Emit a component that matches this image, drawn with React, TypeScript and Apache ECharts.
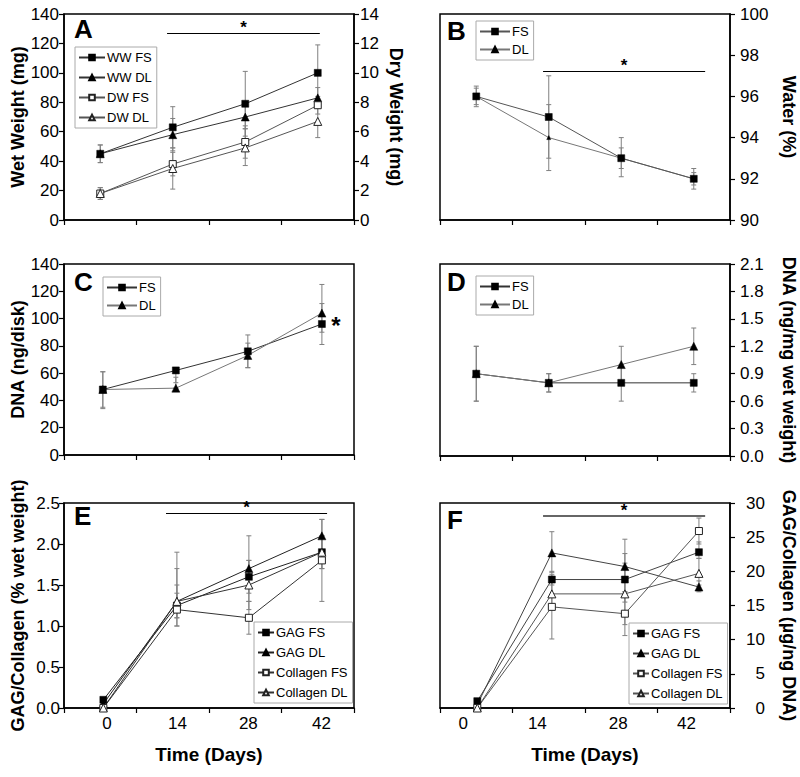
import React, { useEffect, useRef } from 'react';
import * as echarts from 'echarts';

const FONT = '"Liberation Sans", Arial, Helvetica, sans-serif';

// ---- x positions (days) ----
const days = [0, 14, 28, 42];
const daysC = [0.5, 14.6, 28.5, 42.8];
const daysE = [0.6, 14.8, 28.7, 42.8];
const daysF = [0.2, 14.6, 28.7, 43];
const xTickValues = [-7, 7, 21, 35, 49];
const xLabelPosE = [1.3, 14.9, 28.6, 42.7];
const xLabelPosF = [-2.5, 11.8, 27.4, 40.6];

// ---- Panel A ----
const wwFS = [45, 63, 79, 100];
const wwFSerr = [[39, 51], [49, 77], [57, 101], [81, 119]];
const wwDL = [45, 58, 70, 83];
const wwDLerr = [[39, 51], [47, 69], [62, 78], [76, 90]];
const dwFS = [1.8, 3.8, 5.3, 7.8];
const dwFSerr = [[1.4, 2.2], [3.0, 4.6], [4.2, 6.4], [7.2, 8.4]];
const dwDL = [1.8, 3.5, 4.9, 6.7];
const dwDLerr = [[1.4, 2.2], [2.1, 4.9], [3.7, 6.2], [5.6, 7.8]];

// ---- Panel B ----
const waterFS = [96, 95, 93, 92];
const waterFSerr = [[95.5, 96.5], [93, 97], [92.1, 94], [91.5, 92.5]];
const waterDL = [96, 94, 93, 92];
const waterDLerr = [[95.6, 96.4], [92.4, 95.6], [92.5, 93.5], [91.7, 92.3]];

// ---- Panel C ----
const dnaFS = [48, 62, 76, 96];
const dnaFSerr = [[34, 61], [53, 62], [64, 88], [81, 111]];
const dnaDL = [48, 49, 73, 104];
const dnaDLerr = [[35, 61], [49, 57], [64, 82], [90, 125]];

// ---- Panel D ----
const dnawFS = [0.9, 0.8, 0.8, 0.8];
const dnawFSerr = [[0.6, 1.2], [0.7, 0.9], [0.6, 1.0], [0.7, 0.9]];
const dnawDL = [0.9, 0.8, 1.0, 1.2];
const dnawDLerr = [[0.6, 1.2], [0.7, 0.9], [0.8, 1.2], [1.0, 1.4]];

// ---- Panel E ----
const eGagFS = [0.1, 1.25, 1.6, 1.9];
const eGagFSerr = [[0.1, 0.1], [1.0, 1.5], [1.4, 1.8], [1.7, 2.1]];
const eGagDL = [0.05, 1.3, 1.7, 2.1];
const eGagDLerr = [[0.05, 0.05], [1.1, 1.7], [1.3, 2.1], [1.9, 2.3]];
const eColFS = [0, 1.2, 1.1, 1.8];
const eColFSerr = [[0, 0], [1.0, 1.4], [0.9, 1.3], [1.3, 2.3]];
const eColDL = [0, 1.3, 1.5, 1.9];
const eColDLerr = [[0, 0], [1.1, 1.9], [1.2, 1.8], [1.7, 2.1]];

// ---- Panel F ----
const fGagFS = [1, 18.8, 18.8, 22.8];
const fGagFSerr = [[1, 1], [18, 20], [15.5, 22.6], [21.9, 24.3]];
const fGagDL = [0.5, 22.7, 20.7, 17.7];
const fGagDLerr = [[0.5, 0.5], [19.8, 25.8], [17, 24.7], [17, 18.6]];
const fColFS = [0, 14.8, 13.8, 25.9];
const fColFSerr = [[0, 0], [10.1, 19.5], [10.6, 17], [24, 27.8]];
const fColDL = [0, 16.7, 16.7, 19.7];
const fColDLerr = [[0, 0], [15, 18.4], [12.2, 21.2], [18, 21.9]];

// significance annotations: [x0, x1, y]
const sigA = [12.9, 42.4, 127];
const sigB = [12.9, 44.2, 97.23];
const sigC = [45.5, 95];
const sigE = [12.7, 43.8, 2.38];
const sigF = [12.9, 44.2, 28.1];

function pairs(xs: number[], ys: number[]) {
  return xs.map((x, i) => [x, ys[i]]);
}

function lineS(
  name: string, xi: number, yi: number, xs: number[], ys: number[],
  symbol: string, filled: boolean, lineColor: string, size: number, extra: any = {}
) {
  return {
    type: 'line', name, xAxisIndex: xi, yAxisIndex: yi,
    data: pairs(xs, ys), symbol, symbolSize: size, showSymbol: true,
    lineStyle: { color: lineColor, width: 1 },
    itemStyle: filled
      ? { color: '#000', borderColor: '#000', borderWidth: 0.5 }
      : { color: '#fff', borderColor: '#222', borderWidth: 1 },
    color: lineColor,
    z: 3, silent: true,
    ...extra,
  };
}

function errS(xi: number, yi: number, xs: number[], errs: number[][], color = '#808080') {
  return {
    type: 'custom', xAxisIndex: xi, yAxisIndex: yi, silent: true, z: 1,
    encode: { x: 0, y: [1, 2] },
    data: xs.map((x, i) => [x, errs[i][0], errs[i][1]]),
    renderItem: (params: any, api: any) => {
      const x = api.value(0);
      const lo = api.coord([x, api.value(1)]);
      const hi = api.coord([x, api.value(2)]);
      const w = 2.5;
      const style = { stroke: color, lineWidth: 1 };
      return {
        type: 'group', children: [
          { type: 'line', shape: { x1: lo[0], y1: lo[1], x2: hi[0], y2: hi[1] }, style },
          { type: 'line', shape: { x1: lo[0] - w, y1: lo[1], x2: lo[0] + w, y2: lo[1] }, style },
          { type: 'line', shape: { x1: hi[0] - w, y1: hi[1], x2: hi[0] + w, y2: hi[1] }, style },
        ],
      };
    },
  };
}

function sigLine(s: number[], color = '#000', width = 1.2) {
  return {
    silent: true, symbol: ['none', 'none'],
    lineStyle: { color, width, type: 'solid' },
    label: { show: true, position: 'middle', formatter: '*', fontSize: 17, fontWeight: 'bold', color: '#000', fontFamily: FONT, distance: -3 },
    data: [[{ coord: [s[0], s[2]] }, { coord: [s[1], s[2]] }]],
  };
}

const grids = [
  { left: 64, top: 14, width: 290, height: 206 },
  { left: 440, top: 14, width: 290, height: 206 },
  { left: 64, top: 264, width: 290, height: 191 },
  { left: 440, top: 264, width: 290, height: 192 },
  { left: 64, top: 503, width: 290, height: 205 },
  { left: 440, top: 503, width: 290, height: 205 },
].map((g) => ({ ...g, show: true, borderColor: '#000', borderWidth: 1.5, containLabel: false }));

const axisLine = { show: true, onZero: false, lineStyle: { color: '#000', width: 1.5 } };
const axisTick = { show: true, length: 5, lineStyle: { color: '#000', width: 1.2 } };
const labelBase = { fontFamily: FONT, fontSize: 17, color: '#000' };
const nameBase = { fontFamily: FONT, fontSize: 18, fontWeight: 'bold', color: '#000' };

function xAx(gi: number, labels: number[] | null) {
  return {
    type: 'value', gridIndex: gi, min: -7, max: 49, interval: 14,
    axisLine, axisTick: { ...axisTick, customValues: xTickValues },
    splitLine: { show: false },
    axisLabel: labels
      ? { ...labelBase, show: true, margin: 7, customValues: labels, formatter: (v: number) => String(Math.round(v / 14) * 14) }
      : { show: false },
    name: labels ? 'Time (Days)' : '',
    nameLocation: 'middle', nameGap: 37, nameTextStyle: { ...nameBase, fontSize: 19 },
  };
}

function yAx(gi: number, pos: 'left' | 'right', min: number, max: number, interval: number, name: string, opts: any = {}) {
  const { decimals = 0, margin = 5, nameGap = 37, align, ...rest } = opts;
  return {
    type: 'value', gridIndex: gi, position: pos, min, max, interval,
    axisLine, axisTick, splitLine: { show: false },
    axisLabel: {
      ...labelBase, margin, ...(align ? { align } : {}),
      formatter: (v: number) => v.toFixed(decimals),
    },
    name, nameLocation: 'middle', nameGap,
    nameRotate: pos === 'right' ? -90 : 90,
    nameTextStyle: nameBase,
    ...rest,
  };
}

function legendAt(left: number, top: number, names: string[], gap: number, iconW: number) {
  return {
    data: names, orient: 'vertical', left, top,
    itemWidth: iconW, itemHeight: 7, itemGap: gap,
    padding: [4, 5, 4, 3],
    borderColor: '#aaa', borderWidth: 1, borderRadius: 0,
    selectedMode: false,
    textStyle: { fontFamily: FONT, fontSize: 13, color: '#000', padding: [0, 0, 0, -3] },
    formatter: (n: string) => n.split('|').pop(),
  };
}

function letter(t: string, x: number, y: number) {
  return {
    type: 'text', left: x, top: y, silent: true,
    style: { text: t, font: `bold 26px ${FONT}`, fill: '#000' },
  };
}

export default function App() {
  const ref = useRef<HTMLDivElement>(null);
  useEffect(() => {
    if (!ref.current) return;
    const chart = echarts.init(ref.current, null, { renderer: 'svg' });
    const option: any = {
      animation: false,
      backgroundColor: '#fff',
      grid: grids,
      xAxis: [xAx(0, null), xAx(1, null), xAx(2, null), xAx(3, null), xAx(4, xLabelPosE), xAx(5, xLabelPosF)],
      yAxis: [
        yAx(0, 'left', 0, 140, 20, 'Wet Weight (mg)', {}),
        yAx(0, 'right', 0, 14, 2, 'Dry Weight (mg)', { margin: 6, nameGap: 33 }),
        yAx(1, 'right', 90, 100, 2, 'Water (%)', { margin: 10, nameGap: 50 }),
        yAx(2, 'left', 0, 140, 20, 'DNA (ng/disk)', {}),
        yAx(3, 'right', 0, 2.1, 0.3, 'DNA (ng/mg wet weight)', { decimals: 1, margin: 10, nameGap: 50 }),
        yAx(4, 'left', 0, 2.5, 0.5, 'GAG/Collagen (% wet weight)', { decimals: 1, margin: 4 }),
        yAx(5, 'right', 0, 30, 5, 'GAG/Collagen (µg/ng DNA)', { margin: 35, align: 'right', nameGap: 50 }),
      ],
      legend: [
        legendAt(75, 47, ['WW FS', 'WW DL', 'DW FS', 'DW DL'], 7, 26),
        legendAt(476, 21, ['B|FS', 'B|DL'], 5, 30),
        legendAt(103, 277, ['C|FS', 'C|DL'], 5, 30),
        legendAt(476, 276, ['D|FS', 'D|DL'], 5, 30),
        legendAt(254, 622, ['E|GAG FS', 'E|GAG DL', 'E|Collagen FS', 'E|Collagen DL'], 7, 16),
        legendAt(629, 623, ['F|GAG FS', 'F|GAG DL', 'F|Collagen FS', 'F|Collagen DL'], 7, 16),
      ],
      graphic: [
        letter('A', 74, 16), letter('B', 447, 18), letter('C', 74, 269),
        letter('D', 447, 269), letter('E', 74, 503), letter('F', 447, 507),
      ],
      series: [
        // A
        errS(0, 0, days, wwFSerr), errS(0, 0, days, wwDLerr),
        errS(0, 1, days, dwFSerr), errS(0, 1, days, dwDLerr),
        lineS('WW FS', 0, 0, days, wwFS, 'rect', true, '#333', 7, { markLine: sigLine(sigA) }),
        lineS('WW DL', 0, 0, days, wwDL, 'triangle', true, '#333', 8),
        lineS('DW FS', 0, 1, days, dwFS, 'rect', false, '#555', 7),
        lineS('DW DL', 0, 1, days, dwDL, 'triangle', false, '#555', 8),
        // B
        errS(1, 2, days, waterFSerr), errS(1, 2, days, waterDLerr),
        lineS('B|DL', 1, 2, days, waterDL, 'triangle', true, '#777', 4),
        lineS('B|FS', 1, 2, days, waterFS, 'rect', true, '#555', 7, { markLine: sigLine(sigB) }),
        // C
        errS(2, 3, daysC, dnaFSerr), errS(2, 3, daysC, dnaDLerr),
        lineS('C|FS', 2, 3, daysC, dnaFS, 'rect', true, '#333', 7, {
          markPoint: {
            silent: true, symbol: 'rect', symbolSize: 1, itemStyle: { color: 'transparent' },
            label: { show: true, position: 'inside', formatter: '*', fontSize: 24, fontWeight: 'bold', color: '#000', fontFamily: FONT },
            data: [{ coord: [sigC[0], sigC[1]] }],
          },
        }),
        lineS('C|DL', 2, 3, daysC, dnaDL, 'triangle', true, '#777', 8),
        // D
        errS(3, 4, days, dnawFSerr), errS(3, 4, days, dnawDLerr),
        lineS('D|FS', 3, 4, days, dnawFS, 'rect', true, '#333', 7),
        lineS('D|DL', 3, 4, days, dnawDL, 'triangle', true, '#777', 8),
        // E
        errS(4, 5, daysE, eGagFSerr), errS(4, 5, daysE, eGagDLerr),
        errS(4, 5, daysE, eColFSerr), errS(4, 5, daysE, eColDLerr),
        lineS('E|GAG FS', 4, 5, daysE, eGagFS, 'rect', true, '#222', 7, { markLine: sigLine(sigE) }),
        lineS('E|GAG DL', 4, 5, daysE, eGagDL, 'triangle', true, '#222', 8),
        lineS('E|Collagen FS', 4, 5, daysE, eColFS, 'rect', false, '#333', 7),
        lineS('E|Collagen DL', 4, 5, daysE, eColDL, 'triangle', false, '#333', 8),
        // F
        errS(5, 6, daysF, fGagFSerr), errS(5, 6, daysF, fGagDLerr),
        errS(5, 6, daysF, fColFSerr), errS(5, 6, daysF, fColDLerr),
        lineS('F|GAG FS', 5, 6, daysF, fGagFS, 'rect', true, '#444', 7, { markLine: sigLine(sigF, '#666', 2) }),
        lineS('F|GAG DL', 5, 6, daysF, fGagDL, 'triangle', true, '#444', 8),
        lineS('F|Collagen FS', 5, 6, daysF, fColFS, 'rect', false, '#555', 7),
        lineS('F|Collagen DL', 5, 6, daysF, fColDL, 'triangle', false, '#555', 8),
      ],
    };
    chart.setOption(option);
    return () => chart.dispose();
  }, []);
  return (
    <div
      ref={ref}
      style={{ position: 'fixed', left: 0, top: 0, width: 800, height: 777, background: '#fff' }}
    />
  );
}
